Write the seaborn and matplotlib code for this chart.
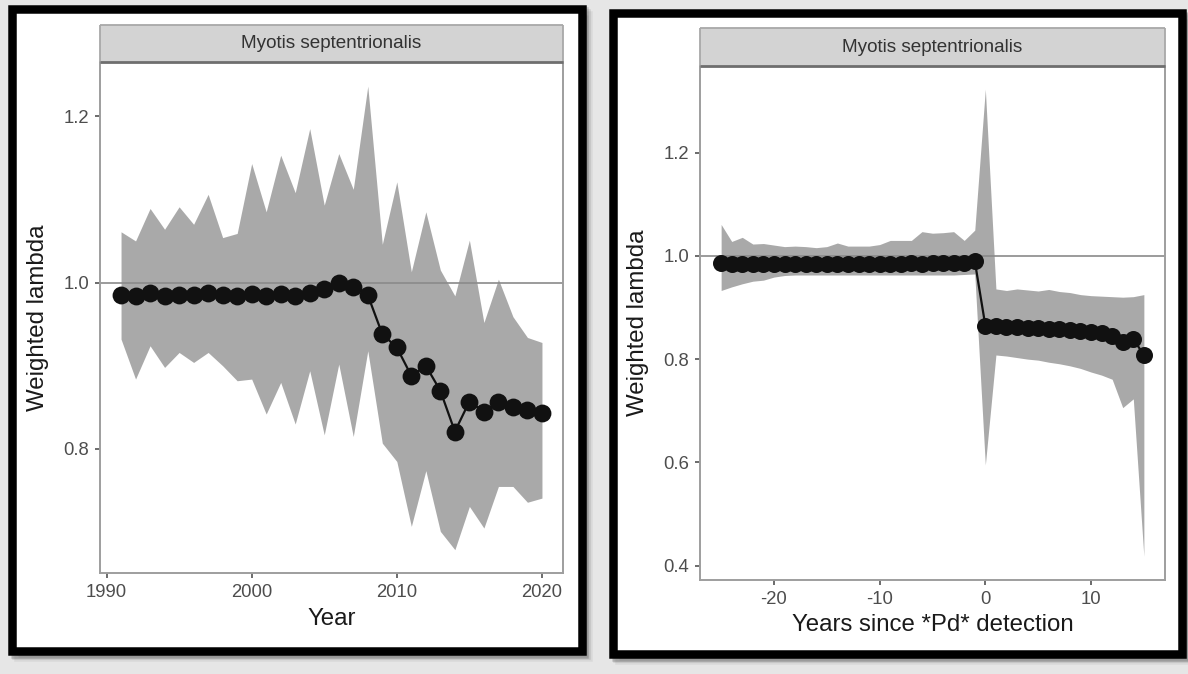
import numpy as np
import pandas as pd
import matplotlib
matplotlib.use("Agg")
import matplotlib.pyplot as plt
from matplotlib.patches import Rectangle
import seaborn as sns

# ---------------- data ----------------
years = list(range(1991, 2021))
lambda_year = [0.985, 0.984, 0.987, 0.984, 0.985, 0.985, 0.987, 0.985, 0.984, 0.986,
               0.984, 0.986, 0.984, 0.987, 0.992, 0.999, 0.995, 0.985, 0.938, 0.922,
               0.888, 0.900, 0.870, 0.821, 0.857, 0.845, 0.857, 0.851, 0.847, 0.843]
upper_year = [1.061, 1.050, 1.089, 1.064, 1.091, 1.070, 1.106, 1.054, 1.059, 1.143,
              1.085, 1.153, 1.108, 1.185, 1.093, 1.155, 1.112, 1.236, 1.046, 1.121,
              1.013, 1.085, 1.015, 0.984, 1.051, 0.952, 1.004, 0.959, 0.934, 0.928]
lower_year = [0.932, 0.884, 0.924, 0.898, 0.916, 0.904, 0.916, 0.900, 0.882, 0.884,
              0.842, 0.880, 0.830, 0.894, 0.817, 0.902, 0.815, 0.918, 0.807, 0.785,
              0.707, 0.774, 0.701, 0.679, 0.731, 0.705, 0.755, 0.755, 0.736, 0.741]

years_since = list(range(-25, 16))
lambda_since = [0.987, 0.984, 0.985, 0.985, 0.984, 0.985, 0.985, 0.984, 0.985, 0.985,
                0.984, 0.985, 0.985, 0.985, 0.984, 0.985, 0.985, 0.985, 0.986, 0.985,
                0.986, 0.986, 0.987, 0.986, 0.990,
                0.865, 0.864, 0.863, 0.862, 0.861, 0.860, 0.859, 0.858, 0.857, 0.855,
                0.852, 0.850, 0.845, 0.834, 0.839, 0.808]
upper_since = [1.061, 1.028, 1.036, 1.023, 1.024, 1.021, 1.018, 1.019, 1.018, 1.016,
               1.018, 1.025, 1.019, 1.019, 1.019, 1.022, 1.030, 1.030, 1.030, 1.047,
               1.044, 1.045, 1.047, 1.030, 1.050,
               1.323, 0.936, 0.933, 0.936, 0.934, 0.932, 0.935, 0.931, 0.929, 0.925,
               0.923, 0.922, 0.921, 0.920, 0.921, 0.925]
lower_since = [0.933, 0.940, 0.946, 0.951, 0.953, 0.959, 0.962, 0.963, 0.963, 0.963,
               0.963, 0.963, 0.963, 0.963, 0.963, 0.963, 0.963, 0.963, 0.963, 0.963,
               0.963, 0.963, 0.963, 0.964, 0.965,
               0.595, 0.808, 0.806, 0.803, 0.800, 0.798, 0.794, 0.791, 0.787, 0.782,
               0.775, 0.769, 0.761, 0.706, 0.723, 0.418]

strip_title = "Myotis septentrionalis"
ylabel = "Weighted lambda"
xlabel_left = "Year"
xlabel_right = "Years since *Pd* detection"
xticks_left = [1990, 2000, 2010, 2020]
yticks_left = [0.8, 1.0, 1.2]
xticks_right = [-20, -10, 0, 10]
yticks_right = [0.4, 0.6, 0.8, 1.0, 1.2]

df_left = pd.DataFrame({"x": years, "y": lambda_year, "lo": lower_year, "hi": upper_year})
df_right = pd.DataFrame({"x": years_since, "y": lambda_since, "lo": lower_since, "hi": upper_since})

# ---------------- style ----------------
sns.set_theme(style="ticks")
plt.rcParams["font.family"] = ["Liberation Sans", "DejaVu Sans"]

W, H = 1188, 674
fig = plt.figure(figsize=(W / 100, H / 100), dpi=100, facecolor="#e6e6e6")


def box(x0, y0, x1, y1):
    return [x0 / W, 1 - y1 / H, (x1 - x0) / W, (y1 - y0) / H]


def frame(x0, y0, x1, y1):
    # soft shadow
    for off, a in [(6, 0.06), (4, 0.10), (2.5, 0.16)]:
        fig.add_artist(Rectangle((x0 / W + off / W, 1 - y1 / H - off / H), (x1 - x0) / W, (y1 - y0) / H,
                                 transform=fig.transFigure, facecolor="black", edgecolor="black",
                                 lw=8.5 * 0.72, alpha=a, zorder=-3))
    fig.add_artist(Rectangle((x0 / W, 1 - y1 / H), (x1 - x0) / W, (y1 - y0) / H,
                             transform=fig.transFigure, facecolor="white", edgecolor="black",
                             lw=8.5 * 0.72, zorder=-2))


frame(12, 8.5, 581.5, 651)
frame(613, 13, 1182, 654)


def panel(ax_box, strip_box, df, xlim, ylim, xticks, yticks, xlabel, dot_s, xlab_y, ylab_x):
    ax = fig.add_axes(box(*ax_box))
    ax.set_facecolor("white")
    ax.fill_between(df["x"], df["lo"], df["hi"], color="#a9a9a9", lw=0, zorder=1)
    ax.axhline(1.0, color="#8a8a8a", lw=1.2, zorder=2)
    sns.lineplot(data=df, x="x", y="y", ax=ax, color="#111111", lw=1.6, zorder=3)
    sns.scatterplot(data=df, x="x", y="y", ax=ax, color="#111111", s=dot_s,
                    edgecolor="#111111", linewidth=0, zorder=4)
    ax.set_xlim(*xlim)
    ax.set_ylim(*ylim)
    ax.set_xticks(xticks)
    ax.set_yticks(yticks)
    ax.set_yticklabels([f"{v:.1f}" for v in yticks])
    ax.set_xticklabels([str(v) for v in xticks])
    ax.tick_params(axis="both", length=3.6, width=1.1, color="#444444",
                   labelsize=13.3, labelcolor="#4d4d4d")
    ax.tick_params(axis="y", pad=4.3)
    ax.tick_params(axis="x", pad=4.5)
    for sp in ax.spines.values():
        sp.set_visible(True)
        sp.set_color("#9e9e9e")
        sp.set_linewidth(1.4)
    ax.set_xlabel(xlabel, fontsize=17.3, color="#1a1a1a")
    ax.set_ylabel(ylabel, fontsize=17.3, color="#1a1a1a")
    ax.xaxis.set_label_coords(0.5, xlab_y)
    ax.xaxis.label.set_va("center")
    ax.yaxis.set_label_coords(ylab_x, 0.5)
    ax.yaxis.label.set_va("center")

    st = fig.add_axes(box(*strip_box))
    st.set_facecolor("#d3d3d3")
    st.set_xticks([])
    st.set_yticks([])
    for name, sp in st.spines.items():
        sp.set_color("#a8a8a8")
        sp.set_linewidth(1.3)
        sp.set_capstyle("butt")
    st.spines["bottom"].set_color("#6e6e6e")
    st.spines["bottom"].set_linewidth(2.0)
    st.text(0.5, 0.5, strip_title, ha="center", va="center", fontsize=13.6,
            color="#333333", transform=st.transAxes)
    return ax


panel((100, 62, 563, 573), (100, 25, 563, 62), df_left,
      (1989.55, 2021.45), (0.651, 1.265), xticks_left, yticks_left, xlabel_left,
      165, -0.090, -0.134)
panel((700, 66, 1165, 580), (700, 28, 1165, 66), df_right,
      (-27, 17), (0.372, 1.368), xticks_right, yticks_right, xlabel_right,
      150, -0.0885, -0.133)

fig.savefig("out.png", dpi=100, facecolor=fig.get_facecolor())
